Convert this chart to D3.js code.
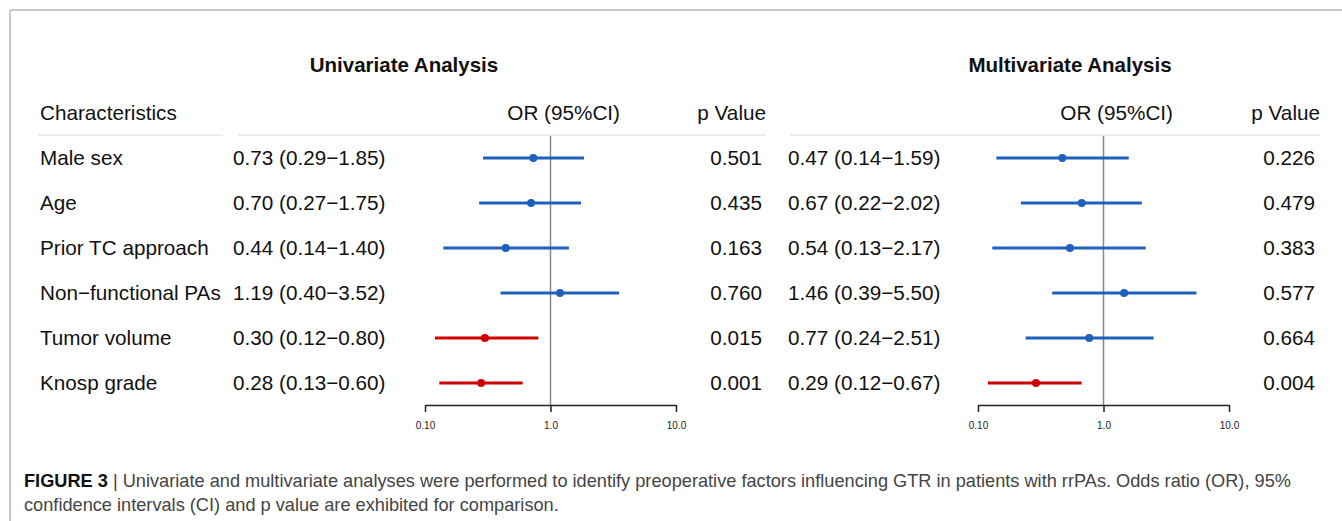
<!DOCTYPE html>
<html>
<head>
<meta charset="utf-8">
<script src="https://cdn.jsdelivr.net/npm/d3@7"></script>
<style>
  body { margin: 0; background: #fff; }
  svg { display: block; font-family: "Liberation Sans", Arial, sans-serif; }
</style>
</head>
<body>
<svg id="chart" width="1342" height="521"></svg>
<script>
// rows (same for both panels)
const characteristics = ["Male sex", "Age", "Prior TC approach", "Non\u2212functional PAs", "Tumor volume", "Knosp grade"];

// univariate analysis
const uniOR    = [0.73, 0.70, 0.44, 1.19, 0.30, 0.28];
const uniLow   = [0.29, 0.27, 0.14, 0.40, 0.12, 0.13];
const uniHigh  = [1.85, 1.75, 1.40, 3.52, 0.80, 0.60];
const uniP     = ["0.501", "0.435", "0.163", "0.760", "0.015", "0.001"];

// multivariate analysis
const multiOR   = [0.47, 0.67, 0.54, 1.46, 0.77, 0.29];
const multiLow  = [0.14, 0.22, 0.13, 0.39, 0.24, 0.12];
const multiHigh = [1.59, 2.02, 2.17, 5.50, 2.51, 0.67];
const multiP    = ["0.226", "0.479", "0.383", "0.577", "0.664", "0.004"];

const tickValues = [0.1, 1, 10];
const tickLabels = ["0.10", "1.0", "10.0"];

const blue = "#1f5fbd", red = "#d10000";
const fs = 20.7;

const svg = d3.select("#chart");

// frame
svg.append("line").attr("x1", 10).attr("x2", 1342).attr("y1", 10).attr("y2", 10)
  .attr("stroke", "#c8c8c8").attr("stroke-width", 2);
svg.append("line").attr("x1", 10).attr("x2", 10).attr("y1", 10).attr("y2", 521)
  .attr("stroke", "#c8c8c8").attr("stroke-width", 2);

const rowY = d3.scalePoint().domain(d3.range(characteristics.length)).range([158, 383]);

const fmt = d => d.toFixed(2);
const ciText = (o, l, h) => `${fmt(o)} (${fmt(l)}\u2212${fmt(h)})`;

// characteristics column
svg.append("text").attr("x", 40).attr("y", 120).attr("font-size", fs).attr("fill", "#111")
  .text("Characteristics");
svg.selectAll("text.label").data(characteristics).enter().append("text")
  .attr("class", "label")
  .attr("x", 40).attr("y", (d, i) => rowY(i) + 7)
  .attr("font-size", fs).attr("fill", "#111")
  .text(d => d);

function panel(cfg) {
  const g = svg.append("g");
  const x = d3.scaleLog().domain([0.1, 10]).range(cfg.range);

  g.append("text").attr("x", cfg.titleX).attr("y", 72).attr("text-anchor", "middle")
    .attr("font-size", 20.5).attr("font-weight", "bold").attr("fill", "#111").text(cfg.title);
  g.append("text").attr("x", cfg.orHeadX).attr("y", 120).attr("text-anchor", "end")
    .attr("font-size", fs).attr("fill", "#111").text("OR (95%CI)");
  g.append("text").attr("x", cfg.pHeadX).attr("y", 120).attr("text-anchor", "end")
    .attr("font-size", fs).attr("fill", "#111").text("p Value");

  // faint header separators
  cfg.seps.forEach(s => {
    g.append("line").attr("x1", s[0]).attr("x2", s[1]).attr("y1", 135).attr("y2", 135)
      .attr("stroke", "#eeeeee").attr("stroke-width", 2);
  });

  const rows = cfg.or.map((o, i) => ({ o, l: cfg.low[i], h: cfg.high[i], p: cfg.p[i], i }));

  g.selectAll("text.ci").data(rows).enter().append("text")
    .attr("x", cfg.ciX).attr("y", d => rowY(d.i) + 7)
    .attr("font-size", fs).attr("fill", "#111")
    .text(d => ciText(d.o, d.l, d.h));

  g.selectAll("text.pv").data(rows).enter().append("text")
    .attr("x", cfg.pX).attr("y", d => rowY(d.i) + 7).attr("text-anchor", "end")
    .attr("font-size", fs).attr("fill", "#111")
    .text(d => d.p);

  // reference line at OR = 1
  g.append("line").attr("x1", x(1)).attr("x2", x(1)).attr("y1", 136).attr("y2", 405)
    .attr("stroke", "#888").attr("stroke-width", 1.5);

  const col = d => (+d.p < 0.05 ? red : blue);
  g.selectAll("line.ci").data(rows).enter().append("line")
    .attr("x1", d => x(d.l)).attr("x2", d => x(d.h))
    .attr("y1", d => rowY(d.i)).attr("y2", d => rowY(d.i))
    .attr("stroke", col).attr("stroke-width", 3);
  g.selectAll("circle").data(rows).enter().append("circle")
    .attr("cx", d => x(d.o)).attr("cy", d => rowY(d.i)).attr("r", 4)
    .attr("fill", col);

  const axis = g.append("g").attr("transform", "translate(0,405)")
    .call(d3.axisBottom(x).tickValues(tickValues)
      .tickFormat((d, i) => tickLabels[i]).tickSize(7).tickSizeOuter(0).tickPadding(10));
  axis.selectAll("path, line").attr("stroke", "#222").attr("stroke-width", 1.5);
  axis.selectAll("text").attr("font-size", 10).attr("fill", "#222")
    .attr("font-family", "'Liberation Sans', Arial, sans-serif");
}

panel({
  title: "Univariate Analysis", titleX: 404,
  range: [425, 676], ciX: 233, pX: 762, orHeadX: 620, pHeadX: 766,
  seps: [[38, 223], [238, 766]],
  or: uniOR, low: uniLow, high: uniHigh, p: uniP
});
panel({
  title: "Multivariate Analysis", titleX: 1070,
  range: [978, 1229], ciX: 788, pX: 1315, orHeadX: 1173, pHeadX: 1320,
  seps: [[790, 1320]],
  or: multiOR, low: multiLow, high: multiHigh, p: multiP
});

// caption
const cap1 = svg.append("text").attr("x", 24).attr("y", 487).attr("font-size", 18.2).attr("fill", "#444");
cap1.append("tspan").attr("font-weight", "bold").attr("fill", "#111").text("FIGURE 3");
cap1.append("tspan").text(" | Univariate and multivariate analyses were performed to identify preoperative factors influencing GTR in patients with rrPAs. Odds ratio (OR), 95%");
svg.append("text").attr("x", 24).attr("y", 511).attr("font-size", 18.2).attr("fill", "#444")
  .text("confidence intervals (CI) and p value are exhibited for comparison.");
</script>
</body>
</html>
